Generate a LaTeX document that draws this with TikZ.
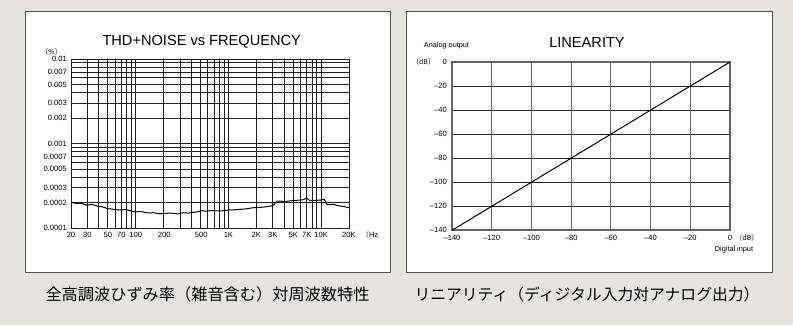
\documentclass[tikz,border=0pt]{standalone}
\usepackage{fontspec}
\setmainfont{Liberation Sans}
\newfontfamily\jp{Noto Sans CJK JP}
\definecolor{bgc}{RGB}{229,228,222}
\definecolor{framec}{RGB}{80,80,80}
\definecolor{gridc}{RGB}{30,30,30}
\definecolor{gridg}{RGB}{100,100,100}
\tikzset{
  panel/.style={draw=framec, fill=white, line width=1pt},
  gridA/.style={draw=gridc, line width=0.85pt},
  gridB/.style={draw=gridg, line width=1.2pt},
  gridH/.style={draw=gridc, line width=0.9pt},
  tick/.style={inner sep=0pt, font=\fontsize{7.6}{8}\selectfont},
  ttl/.style={inner sep=0pt, font=\fontsize{14.6}{16}\selectfont},
  captext/.style={inner sep=0pt, font=\jp\fontsize{16.2}{18}\selectfont},
  small/.style={inner sep=0pt, font=\fontsize{7.3}{8}\selectfont},
  curve/.style={draw=black, line width=1pt, line join=round}
}
\begin{document}
\begin{tikzpicture}[x=1pt,y=-1pt]
\useasboundingbox (0,0) rectangle (793,325);
\fill[bgc] (0,0) rectangle (793,325);

% ---------------- left panel ----------------
\draw[panel] (25,11) rectangle (390,272);
\node[ttl] (t1) at (201.7,42) {THD+NOISE vs FREQUENCY};
\node[small] (pct) at (51.5,52) {\jp\fontsize{6.8}{7}\selectfont 〔\%〕};

% vertical grid
\foreach \f in {30,40,50,60,70,80,90,100,200,300,400,500,600,700,800,900,1000,2000,3000,4000,5000,6000,7000,8000,9000,10000}{
  \pgfmathsetmacro\xx{71+92.67*ln(\f/20)/ln(10)}
  \draw[gridA] (\xx,59) -- (\xx,228);
}
% horizontal grid
\foreach \d in {0,1}{
  \foreach \k in {2,...,9}{
    \pgfmathsetmacro\yy{228-84.5*(ln(\k)/ln(10)+\d)}
    \draw[gridA] (71,\yy) -- (349,\yy);
  }
}
\draw[gridA] (71,143.5) -- (349,143.5);
\draw[draw=gridc, line width=1pt] (71,59) rectangle (349,228);

% y labels
\foreach \v/\y [count=\i] in {0.01/59,0.007/72.1,0.005/84.4,0.003/103.2,0.002/118.1,0.001/143.5,0.0007/156.6,0.0005/168.9,0.0003/187.7,0.0002/202.6,0.0001/228}{
  \node[tick, anchor=east] (ly\i) at (67,\y) {\v};
}
% x labels
\foreach \t/\x [count=\i] in {20/71,30/87.3,50/107.9,70/121.4,100/135.8,200/164.3,500/201.2,1K/228.4,2K/256.3,3K/272.7,5K/293.3,7K/306.8,10K/321.2,20K/349}{
  \node[tick] (lx\i) at (\x,234.5) {\t};
}
\node[tick, anchor=west] (hz) at (362,235) {{\jp\fontsize{6.8}{7}\selectfont 〔}Hz};

% THD+N curve
\draw[curve] plot[smooth, tension=0.3] coordinates {
 (71.7,202.3) (76,203.4) (81.7,203.3) (86.7,205.3) (91.7,204.3) (96.7,206) (101.7,206.7)
 (106.7,208.3) (113.3,209.3) (120,210) (125,209.6) (130,210.7) (135,212) (139,211.5) (143.3,212)
 (148,212.9) (153.3,212.7) (158,213.5) (163.3,213.7) (168,213.2) (173.3,213.3) (178,213.9) (183.3,212.7)
 (188,213.1) (193.3,212.3) (197,211.9) (201.7,210.7) (206,211.2) (210,210.7) (213.3,210.7) (220,210.9)
 (228.3,210) (234,209.8) (240,209.3) (246,208.9) (253.3,207.7) (260,207.4) (266.7,206.7) (272.7,205.7)
 (275,203.5) (277.3,201) (282,201.3) (286.7,201.3) (291,200.8) (296.7,200.3) (303.3,199.7) (306.7,198)
 (309.3,200.3) (312,200.6) (316.7,200.3) (321,200) (324,199.3) (325.5,201.5) (327.3,204.7) (333.3,204.3)
 (337,205.4) (340,206) (344,206.6) (349,207.7)};

\node[captext] (c1) at (207.5,294) {全高調波ひずみ率（雑音含む）対周波数特性};

% ---------------- right panel ----------------
\draw[panel] (406,11) rectangle (772,272);
\node[ttl] (t2) at (587,42) {LINEARITY};
\node[small] (ao) at (446.5,46) {Analog output};
\node[small] (dbl) at (423.5,62) {\jp\fontsize{6.8}{7}\selectfont 〔dB〕};

\foreach \j in {1,...,6}{
  \draw[gridH] (452,62+24*\j) -- (730,62+24*\j);
}
\foreach \i in {1,...,6}{
  \draw[gridB] (452+39.714*\i,62) -- (452+39.714*\i,230);
}
\draw[draw=gridg, line width=1.2pt] (452,62) rectangle (730,230);

% y labels
\foreach \t [count=\j from 0] in {0,\textendash20,\textendash40,\textendash60,\textendash80,\textendash100,\textendash120,\textendash140}{
  \node[tick, anchor=east] (ry\j) at (447,62+24*\j) {\t};
}
% x labels
\foreach \t [count=\i from 0] in {\textendash140,\textendash120,\textendash100,\textendash80,\textendash60,\textendash40,\textendash20,0}{
  \node[tick] (rx\i) at (452+39.714*\i,237.5) {\t};
}
\node[small] (dbb) at (747,237.5) {\jp\fontsize{6.8}{7}\selectfont 〔dB〕};
\node[small] (di) at (734,250) {Digital input};

\coordinate (ls) at (452,230);
\coordinate (lk) at (455,228.5);
\coordinate (le) at (730,62);
\draw[curve] (ls) -- (lk) -- (le);

\node[captext, font=\jp\fontsize{15.8}{18}\selectfont] (c2) at (587,294) {リニアリティ（ディジタル入力対アナログ出力）};
\end{tikzpicture}
\end{document}
